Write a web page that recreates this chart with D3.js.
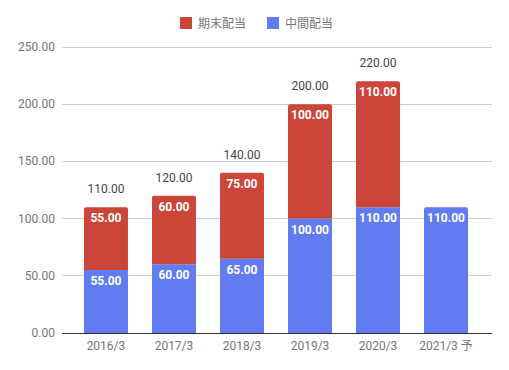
<!DOCTYPE html>
<html><head><meta charset="utf-8">
<script src="https://cdn.jsdelivr.net/npm/d3@7"></script>
<style>body{margin:0;background:#fff}svg{font-family:Roboto,"Noto Sans CJK JP",sans-serif}</style>
</head><body><svg id="c" width="509" height="370"></svg>
<script>
const categories = ["2016/3","2017/3","2018/3","2019/3","2020/3","2021/3 予"];
const interim = [55,60,65,100,110,110];      // 中間配当
const yearEnd = [55,60,75,100,110,null];     // 期末配当
const totals = [110,120,140,200,220,null];
const yTicks = [0,50,100,150,200,250];
const seriesNames = ["期末配当","中間配当"];
const colors = {end:"#cc4539", mid:"#617bf0"};

const svg = d3.select("#c");
const x = d3.scaleBand().domain(categories).range([72,480]).paddingInner(0.353).paddingOuter(0.176);
const y = d3.scaleLinear().domain([0,250]).range([333,47]);

// grid
svg.append("g").selectAll("line").data(yTicks.slice(1)).join("line")
  .attr("x1",62).attr("x2",492).attr("y1",d=>y(d)).attr("y2",d=>y(d))
  .attr("stroke","#cccccc").attr("stroke-width",1).attr("shape-rendering","crispEdges");
// y labels
svg.append("g").selectAll("text").data(yTicks).join("text")
  .attr("x",55).attr("y",d=>y(d)+4).attr("text-anchor","end")
  .attr("font-size",12).attr("fill","#757575").text(d=>d.toFixed(2));

function rrect(x0,y0,w,h,r){
  return `M${x0},${y0+h}V${y0+r}Q${x0},${y0} ${x0+r},${y0}H${x0+w-r}Q${x0+w},${y0} ${x0+w},${y0+r}V${y0+h}Z`;
}
const bw = x.bandwidth();
categories.forEach((c,i)=>{
  const x0 = x(c);
  const midTop = y(interim[i]);
  const endTop = yearEnd[i]!=null ? y(interim[i]+yearEnd[i]) : null;
  svg.append("path").attr("d", endTop==null ? rrect(x0,midTop,bw,333-midTop,2) : `M${x0},333V${midTop}H${x0+bw}V333Z`).attr("fill",colors.mid);
  if(endTop!=null){
    svg.append("path").attr("d", rrect(x0,endTop,bw,midTop-endTop,2)).attr("fill",colors.end);
    svg.append("text").attr("x",x0+bw/2).attr("y",endTop+15).attr("text-anchor","middle")
      .attr("font-size",12).attr("font-weight","bold").attr("fill","#fff").text(yearEnd[i].toFixed(2));
  }
  svg.append("text").attr("x",x0+bw/2).attr("y",midTop+15).attr("text-anchor","middle")
    .attr("font-size",12).attr("font-weight","bold").attr("fill","#fff").text(interim[i].toFixed(2));
  if(totals[i]!=null){
    svg.append("text").attr("x",x0+bw/2).attr("y",y(totals[i])-14).attr("text-anchor","middle")
      .attr("font-size",12).attr("fill","#444").text(totals[i].toFixed(2));
  }
});
// axis line
svg.append("line").attr("x1",62).attr("x2",492).attr("y1",333.5).attr("y2",333.5).attr("stroke","#333");
// x labels
svg.append("g").selectAll("text").data(categories).join("text")
  .attr("x",d=>x(d)+bw/2).attr("y",350).attr("text-anchor","middle")
  .attr("font-size",12).attr("fill","#757575").text(d=>d);
// legend
const lg = [{n:seriesNames[0],c:colors.end,x:180},{n:seriesNames[1],c:colors.mid,x:267}];
lg.forEach(l=>{
  svg.append("rect").attr("x",l.x).attr("y",17).attr("width",12).attr("height",12).attr("fill",l.c);
  svg.append("text").attr("x",l.x+18).attr("y",28).attr("font-size",12).attr("fill","#757575").text(l.n);
});
</script></body></html>
